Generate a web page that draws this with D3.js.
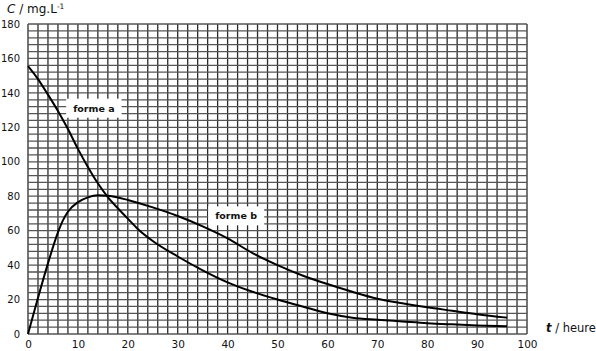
<!DOCTYPE html>
<html>
<head>
<meta charset="utf-8">
<script src="https://cdn.jsdelivr.net/npm/d3@7"></script>
<style>
  body { margin: 0; background: #fff; }
  text { font-family: "DejaVu Sans", Verdana, sans-serif; fill: #111; }
</style>
</head>
<body>
<svg id="chart"></svg>
<script>
// forme a : décroissance
var tA = [0, 2, 4, 6, 8, 10, 12, 14, 16, 18, 20, 22, 25, 30, 35, 40, 45, 50, 55, 60, 65, 70, 75, 80, 85, 90, 96];
var cA = [155.5, 148, 139, 129.5, 119, 107.5, 97, 87.5, 79.5, 73, 67, 61, 54, 45, 37, 30, 24.5, 20, 16, 12, 9.5, 8.3, 7.3, 6.3, 5.6, 5, 4.5];

// forme b : montée puis décroissance
var tB = [0, 2, 4, 6, 7, 8, 10, 12, 14, 16, 18, 20, 25, 30, 35, 40, 45, 50, 55, 60, 65, 70, 75, 80, 85, 90, 96];
var cB = [0, 21, 41, 59, 66, 71, 76.5, 79.3, 80.5, 80.3, 79.3, 77.8, 73.5, 68.5, 62.5, 55.5, 47, 40, 34, 29, 24.5, 20.5, 17.8, 15.5, 13.5, 11.5, 9.5];

var xTicks = [0, 10, 20, 30, 40, 50, 60, 70, 80, 90, 100];
var yTicks = [0, 20, 40, 60, 80, 100, 120, 140, 160, 180];

function init() {
    var w = 596, h = 351;
    var svg = d3.select("#chart").attr("width", w).attr("height", h);

    var x = d3.scaleLinear().domain([0, 100]).range([28, 527]);
    var y = d3.scaleLinear().domain([0, 180]).range([334, 24]);

    // quadrillage
    var grid = svg.append("g");
    grid.selectAll("line.v")
        .data(d3.range(0, 101, 2))
        .enter().append("line")
        .attr("class", "v")
        .attr("x1", function(d) { return x(d); })
        .attr("x2", function(d) { return x(d); })
        .attr("y1", y(0)).attr("y2", y(180))
        .attr("stroke", "#2a2a2a").attr("stroke-width", 1.3);
    grid.selectAll("line.h")
        .data(d3.range(0, 181, 4))
        .enter().append("line")
        .attr("class", "h")
        .attr("y1", function(d) { return y(d); })
        .attr("y2", function(d) { return y(d); })
        .attr("x1", x(0)).attr("x2", x(100))
        .attr("stroke", "#555").attr("stroke-width", 1.3);

    // axes
    var xAxis = d3.axisBottom(x).tickValues(xTicks).tickSize(0).tickPadding(7);
    svg.append("g")
        .attr("transform", "translate(0," + y(0) + ")")
        .call(xAxis)
        .call(function(g) { g.select(".domain").remove(); })
        .selectAll("text").style("font-size", "10.5px").attr("fill", "#111");

    var yAxis = d3.axisLeft(y).tickValues(yTicks).tickSize(0).tickPadding(8);
    svg.append("g")
        .attr("transform", "translate(" + x(0) + ",0)")
        .call(yAxis)
        .call(function(g) { g.select(".domain").remove(); })
        .selectAll("text").style("font-size", "10px").attr("fill", "#111");

    // courbes
    var line = d3.line()
        .x(function(d) { return x(d[0]); })
        .y(function(d) { return y(d[1]); })
        .curve(d3.curveMonotoneX);

    svg.append("path")
        .datum(d3.zip(tA, cA))
        .attr("d", line)
        .attr("fill", "none").attr("stroke", "#000").attr("stroke-width", 2);
    svg.append("path")
        .datum(d3.zip(tB, cB))
        .attr("d", line)
        .attr("fill", "none").attr("stroke", "#000").attr("stroke-width", 2);

    // étiquettes des courbes
    var labels = [
        { text: "forme a", t: 13.2, c: 131 },
        { text: "forme b", t: 41.7, c: 68.5 }
    ];
    labels.forEach(function(l) {
        var g = svg.append("g").attr("transform", "translate(" + x(l.t) + "," + y(l.c) + ")");
        var t = g.append("text")
            .text(l.text)
            .attr("text-anchor", "middle")
            .attr("dy", "0.35em")
            .style("font-size", "9.5px")
            .style("font-weight", "bold");
        var bb = t.node().getBBox();
        g.insert("rect", "text")
            .attr("x", bb.x - 7).attr("y", bb.y - 4)
            .attr("width", bb.width + 14).attr("height", bb.height + 8)
            .attr("fill", "#fff");
    });

    // titres des axes
    var yt = svg.append("text").attr("x", 7).attr("y", 13).style("font-size", "12px");
    yt.append("tspan").text("C").style("font-style", "italic");
    yt.append("tspan").text(" / mg.L");
    yt.append("tspan").text("-1").attr("dy", -4).style("font-size", "7.5px");

    var xt = svg.append("text").attr("x", 546).attr("y", 332).style("font-size", "11.5px");
    xt.append("tspan").text("t").style("font-style", "italic").style("font-weight", "bold");
    xt.append("tspan").text(" / heure");
}
window.onload = init;
</script>
</body>
</html>
